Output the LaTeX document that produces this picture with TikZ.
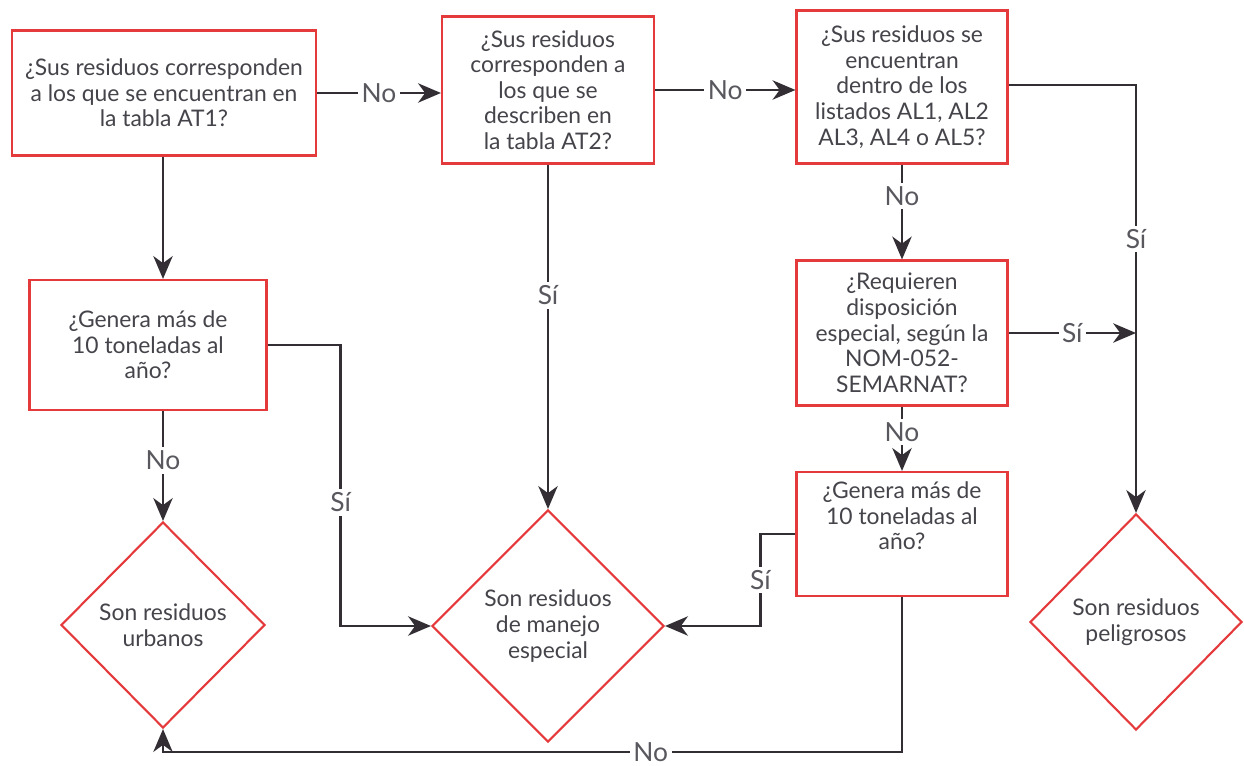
\documentclass[tikz,border=0pt]{standalone}
\usepackage{fontspec}
\setmainfont{Lato}
\definecolor{box-red}{RGB}{228,58,60}
\definecolor{line-grey}{RGB}{50,46,52}
\definecolor{text-grey}{RGB}{68,68,74}
\definecolor{label-grey}{RGB}{88,88,94}
\usetikzlibrary{arrows.meta,shapes.geometric}

\begin{document}
\begin{tikzpicture}[x=0.02cm,y=-0.02cm,
        question/.style={draw=box-red,line width=1.2pt,fill=white,text=text-grey,
            align=center,inner sep=0pt,font=\fontsize{13}{14.6}\selectfont},
        result/.style={question,shape=diamond,aspect=1},
        flow/.style={draw=line-grey,line width=1.3pt,-{Stealth[length=13pt,width=11pt,inset=4pt]}},
        answer/.style={fill=white,text=label-grey,inner sep=2pt,font=\fontsize{15}{16}\selectfont}
        ]
    \useasboundingbox (0,0) rectangle (1244,766);
    %
    % questions
    \node[question,minimum width=304*0.02cm,minimum height=125*0.02cm] (q1) at (164,93)
        {¿Sus residuos corresponden\\a los que se encuentran en\\la tabla AT1?};
    \node[question,minimum width=212*0.02cm,minimum height=147*0.02cm] (q2) at (548,90)
        {¿Sus residuos\\corresponden a\\los que se\\describen en\\la tabla AT2?};
    \node[question,minimum width=211*0.02cm,minimum height=153*0.02cm] (q3) at (902,87)
        {¿Sus residuos se\\encuentran\\dentro de los\\listados AL1, AL2\\AL3, AL4 o AL5?};
    \node[question,minimum width=237*0.02cm,minimum height=130*0.02cm] (q4) at (148,345)
        {¿Genera más de\\10 toneladas al\\año?};
    \node[question,minimum width=211*0.02cm,minimum height=145*0.02cm] (q5) at (902,333)
        {¿Requieren\\disposición\\especial, según la\\NOM-052-\\SEMARNAT?};
    \node[question,minimum width=211*0.02cm,minimum height=124*0.02cm] (q6) at (902,534)
        {¿Genera más de\\10 toneladas al\\año?\\[6pt]};
    %
    % results
    \node[result,minimum width=204*0.02cm,minimum height=206*0.02cm] (d1) at (163,625)
        {Son residuos\\urbanos};
    \node[result,minimum width=232*0.02cm,minimum height=232*0.02cm] (d2) at (548,626)
        {Son residuos\\de manejo\\especial};
    \node[result,minimum width=212*0.02cm,minimum height=216*0.02cm] (d3) at (1136,622)
        {Son residuos\\peligrosos};
    %
    % connectors
    \draw[flow] (q1.east) -- node[answer] {No} (q1.east -| q2.west);
    \draw[flow] (q2.east) -- node[answer] {No} (q2.east -| q3.west);
    \draw[flow] ([yshift=0.04cm]q3.east) -| node[answer,pos=0.68] {Sí} (d3.north);
    \draw[flow] (q3.south) -- node[answer,pos=0.33] {No} (q5.north);
    \coordinate (join) at (q5.east -| d3.north);
    \draw[flow] (q5.east) -- node[answer,pos=0.5] {Sí} (join);
    \draw[flow] (q5.south) -- node[answer,pos=0.4] {No} (q6.north);
    \draw[flow] (q6.west) -- ++(-35,0) |- node[answer,pos=0.25] {Sí} (d2.east);
    \draw[flow] (q6.south) -- ++(0,155) -| node[answer,pos=0.17] {No} (d1.south);
    \draw[flow] (d1.north |- q1.south) -- (d1.north |- q4.north);
    \draw[flow] (d1.north |- q4.south) -- node[answer,pos=0.45] {No} (d1.north);
    \draw[flow] (q4.east) -- ++(73,0) |- node[answer,pos=0.28] {Sí} (d2.west);
    \draw[flow] (q2.south) -- node[answer,pos=0.38] {Sí} (d2.north);
\end{tikzpicture}
\end{document}
